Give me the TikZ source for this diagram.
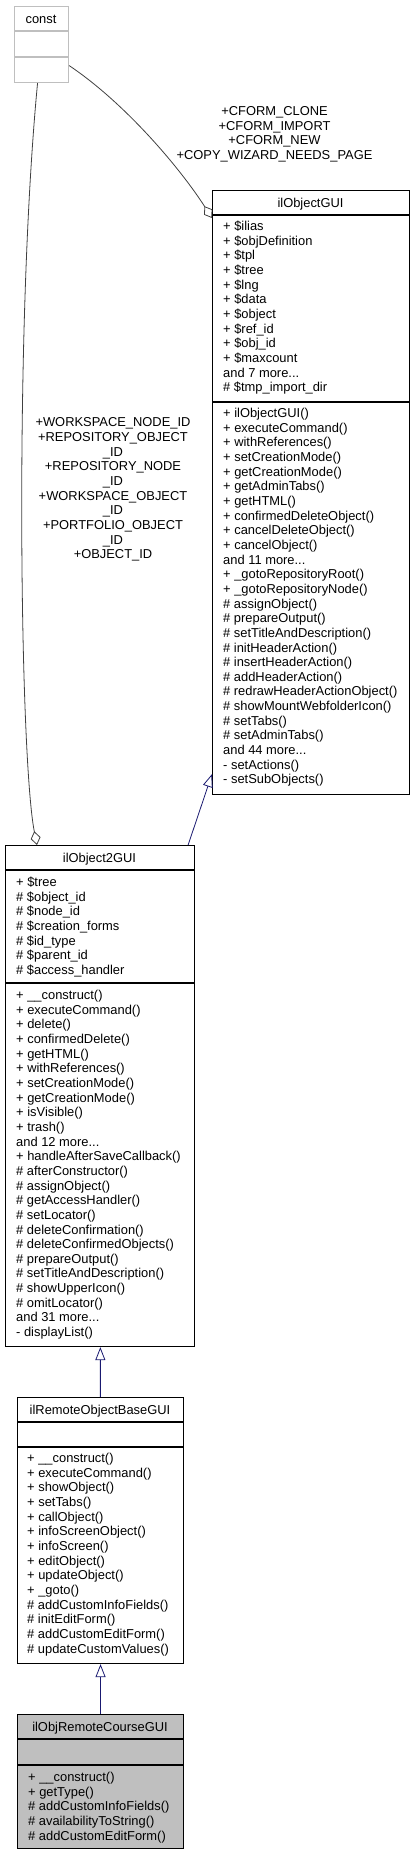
\documentclass[tikz,border=0pt]{standalone}
\usepackage{fontspec}
\setmainfont{Liberation Sans}
\usetikzlibrary{arrows.meta}
\definecolor{edgegray}{HTML}{404040}
\definecolor{navyedge}{HTML}{191970}
\definecolor{constgray}{HTML}{BFBFBF}
\definecolor{selfgray}{HTML}{BFBFBF}
\tikzset{
  box/.style={draw=black, line width=1.1pt, inner sep=0pt},
  sep/.style={draw=black, line width=1.1pt},
  title/.style={anchor=base, inner sep=0pt},
  member/.style={anchor=base west, inner sep=0pt},
  lbl/.style={align=center, inner sep=0pt},
  aggr/.style={draw=edgegray, line width=0.8pt, -{Diamond[open, length=14pt, width=10pt]}},
  inh/.style={draw=navyedge, line width=0.8pt, -{Triangle[open, length=13pt, width=10pt]}}
}
% box: [extra] name, left, top, width, header line, section line, bottom, title
\newcommand{\classbox}[9][]{
  \node[box, #1, minimum width=#5, minimum height=#8-#4, anchor=north west] (#2) at (#3,#4) {};
  \draw[sep, #1] (#3,#6) -- ++(#5,0) (#3,#7) -- ++(#5,0);
  \node[title] (#2-t) at (#3+#5/2, #4/2+#6/2+4.6) {#9};
}
% one row per member
\newcommand{\members}[4]{
  \foreach \mem [count=\i from 0] in {#4}
    \node[member] (#1\i) at (#2, #3+\i*14.65+4.6) {\mem};
}
\newcommand{\andmore}[1]{and #1 more...}

\begin{document}
\begin{tikzpicture}[x=1pt, y=-1pt, every node/.style={font=\fontsize{12.9}{14.65}\selectfont}]
  \useasboundingbox (0,0) rectangle (415,1855);

  \classbox[draw=constgray]{const}{14}{6}{54}{31}{57}{82}{const}
  \classbox{objgui}{212}{190}{197}{215}{402}{794}{ilObjectGUI}
  \classbox{objtwo}{5}{845}{189}{870}{983}{1346}{ilObject2GUI}
  \classbox{remote}{17}{1397}{166}{1422}{1447}{1663}{ilRemoteObjectBaseGUI}
  \classbox[fill=selfgray]{course}{17}{1714}{166}{1739}{1765}{1848}{ilObjRemoteCourseGUI}

  \members{objgui-a}{223}{226}{+ \$ilias, + \$objDefinition, + \$tpl, + \$tree, + \$lng,
    + \$data, + \$object, + \$ref\_id, + \$obj\_id, + \$maxcount, \andmore{7},
    \# \$tmp\_import\_dir}
  \members{objgui-m}{223}{413}{+ ilObjectGUI(), + executeCommand(), + withReferences(),
    + setCreationMode(), + getCreationMode(), + getAdminTabs(), + getHTML(),
    + confirmedDeleteObject(), + cancelDeleteObject(), + cancelObject(), \andmore{11},
    + \_gotoRepositoryRoot(), + \_gotoRepositoryNode(), \# assignObject(),
    \# prepareOutput(), \# setTitleAndDescription(), \# initHeaderAction(),
    \# insertHeaderAction(), \# addHeaderAction(), \# redrawHeaderActionObject(),
    \# showMountWebfolderIcon(), \# setTabs(), \# setAdminTabs(), \andmore{44},
    - setActions(), - setSubObjects()}

  \members{objtwo-a}{16}{882}{+ \$tree, \# \$object\_id, \# \$node\_id,
    \# \$creation\_forms, \# \$id\_type, \# \$parent\_id, \# \$access\_handler}
  \members{objtwo-m}{16}{995}{+ \_\_construct(), + executeCommand(), + delete(),
    + confirmedDelete(), + getHTML(), + withReferences(), + setCreationMode(),
    + getCreationMode(), + isVisible(), + trash(), \andmore{12},
    + handleAfterSaveCallback(), \# afterConstructor(), \# assignObject(),
    \# getAccessHandler(), \# setLocator(), \# deleteConfirmation(),
    \# deleteConfirmedObjects(), \# prepareOutput(), \# setTitleAndDescription(),
    \# showUpperIcon(), \# omitLocator(), \andmore{31}, - displayList()}

  \members{remote-m}{27}{1458}{+ \_\_construct(), + executeCommand(), + showObject(),
    + setTabs(), + callObject(), + infoScreenObject(), + infoScreen(), + editObject(),
    + updateObject(), + \_goto(), \# addCustomInfoFields(), \# initEditForm(),
    \# addCustomEditForm(), \# updateCustomValues()}

  \members{course-m}{28}{1777}{+ \_\_construct(), + getType(), \# addCustomInfoFields(),
    \# availabilityToString(), \# addCustomEditForm()}

  % usage edges
  \node[lbl] (lblobjgui) at (274.5,134.3) {+CFORM\_CLONE\\+CFORM\_IMPORT\\+CFORM\_NEW\\+COPY\_WIZARD\_NEEDS\_PAGE};
  \node[lbl] (lblobjtwo) at (113,489.5) {+WORKSPACE\_NODE\_ID\\+REPOSITORY\_OBJECT\\\_ID\\+REPOSITORY\_NODE\\\_ID\\+WORKSPACE\_OBJECT\\\_ID\\+PORTFOLIO\_OBJECT\\\_ID\\+OBJECT\_ID};
  \draw[aggr] ([yshift=-21pt]const.east) .. controls (125,103) and (180,168) .. ([yshift=-28pt]objgui.north west);
  \draw[aggr] ([xshift=-4pt]const.south) .. controls (14,330) and (20,760) .. ([xshift=32pt]objtwo.north west);

  % inheritance
  \draw[inh] ([xshift=-7pt]objtwo.north east) -- ([yshift=21pt]objgui.south west);
  \draw[inh] (remote) -- (objtwo);
  \draw[inh] (course) -- (remote);
\end{tikzpicture}
\end{document}
